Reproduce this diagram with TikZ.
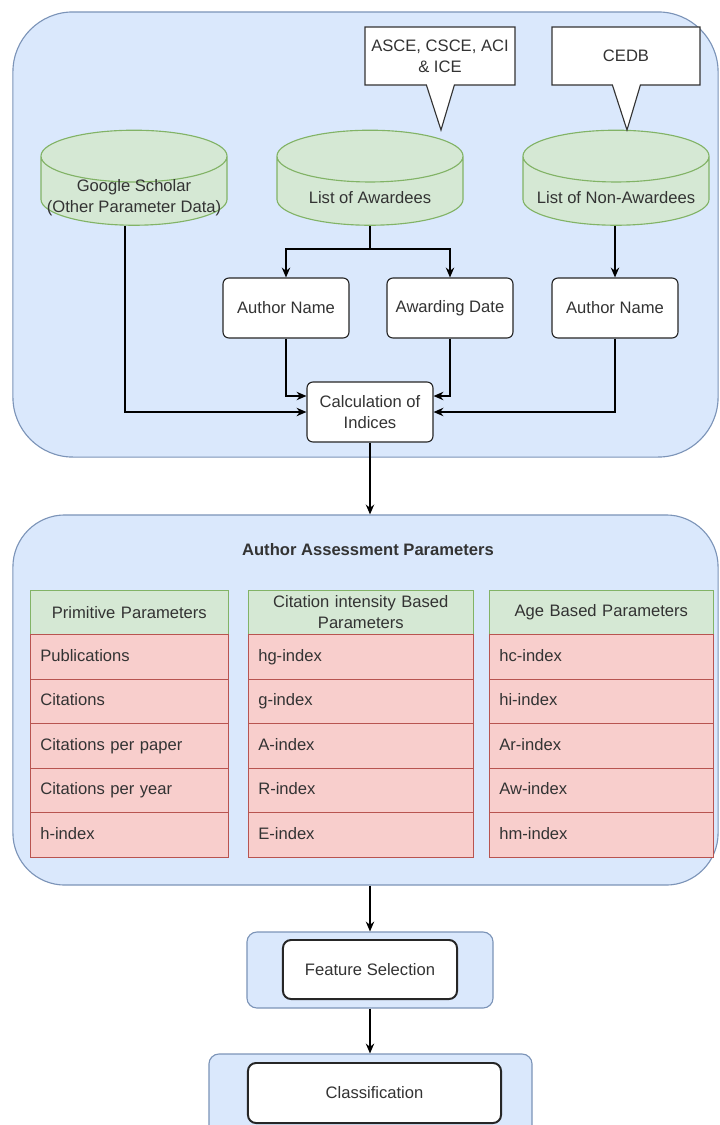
\documentclass[tikz,border=0pt]{standalone}
\usepackage{fontspec}
\setmainfont{Liberation Sans}
\usetikzlibrary{arrows.meta,shapes,shapes.callouts,positioning}
\definecolor{panelblue}{HTML}{DAE8FC}
\definecolor{panelline}{HTML}{7C94B8}
\definecolor{dbgreen}{HTML}{D5E8D4}
\definecolor{dbline}{HTML}{82B366}
\definecolor{rowred}{HTML}{F8CECC}
\definecolor{rowline}{HTML}{B85450}
\definecolor{inkgray}{HTML}{333333}
\newcommand{\dbbody}{\hspace*{3cm}}
\tikzstyle{panel}=[rectangle,draw=panelline,fill=panelblue,line width=0.8pt]
\tikzstyle{database}=[cylinder,shape border rotate=90,aspect=0.4,draw=dbline,fill=dbgreen,line width=0.8pt,minimum width=4.65cm,minimum height=2.375cm,inner ysep=1pt]
\tikzstyle{dbtext}=[align=center,text=inkgray,yshift=-0.075cm]
\tikzstyle{source}=[rectangle callout,draw=black!80,fill=white,line width=0.8pt,minimum width=3.7cm,minimum height=1.45cm,align=center,callout pointer width=0.7cm,text=inkgray]
\tikzstyle{procbox}=[rectangle,rounded corners=0.15cm,draw=black!85,fill=white,line width=0.8pt,minimum width=3.15cm,minimum height=1.5cm,align=center,text=inkgray]
\tikzstyle{thead}=[rectangle,anchor=north west,draw=dbline,fill=dbgreen,minimum height=1.1cm,inner xsep=0.25cm,align=center,text=inkgray]
\tikzstyle{trow}=[rectangle,anchor=north west,draw=rowline,fill=rowred,minimum height=1.115cm,inner xsep=0.25cm,text height=1.6ex,text depth=0.4ex,align=left,text=inkgray]
\tikzstyle{edge}=[draw,line width=0.9pt,-{Stealth[length=7pt,width=6pt]}]

\begin{document}
\begin{tikzpicture}[x=0.025cm,y=-0.025cm,font=\fontsize{11.8}{15}\selectfont]
    \useasboundingbox (0,0) rectangle (719,1125);

    % The two big panels
    \node[panel,rounded corners=1.5cm,minimum width=17.625cm,minimum height=11.125cm] (collect) at (365.5,234.5) {};
    \node[panel,rounded corners=1.3cm,minimum width=17.625cm,minimum height=9.25cm] (assess) at (365.5,700) {};

    % Databases and where they come from
    \node[database,label={[dbtext]center:Google Scholar\\(Other Parameter Data)}] (gs) at (134,195) {\dbbody};
    \node[database,label={[dbtext]center:List of Awardees}] (loa) at (370,195) {\dbbody};
    \node[database,label={[dbtext]center:List of Non-Awardees}] (lona) at (616,195) {\dbbody};
    \coordinate (tipa) at (441,130);
    \coordinate (tipn) at (627,130);
    \node[source,minimum width=3.75cm,callout absolute pointer={(tipa)}] (soc) at (440,56) {ASCE, CSCE, ACI\\\& ICE};
    \node[source,callout absolute pointer={(tipn)}] (cedb) at (626,56) {CEDB};

    % Author data boxes
    \foreach \pos/\name/\txt in {{(286,308)/an1/Author Name}, {(450,308)/ad/Awarding Date}, {(615,308)/an2/Author Name}, {(370,412)/calc/Calculation of\\Indices}}
        \node[procbox] (\name) at \pos {\txt};

    % Connect them
    \coordinate (split) at (370,249);
    \path[edge] (loa.south) -- (split) -| (an1.north);
    \path[edge] (split) -| (ad.north);
    \path[edge] (an2.north |- lona.south) -- (an2.north);
    \path[edge] ([xshift=-0.225cm]gs.south) |- (calc.west);
    \path[edge] (an1.south) |- ([yshift=0.4cm]calc.west);
    \path[edge] (ad.south) |- ([yshift=0.4cm]calc.east);
    \path[edge] (an2.south) |- (calc.east);
    \path[edge] (calc.south) -- (calc.south |- assess.north);

    % Parameter tables
    \node[font=\fontsize{11.8}{15}\selectfont\bfseries,text=inkgray] (title) at (368,550) {Author Assessment Parameters};
    \foreach \tab/\xl/\tw/\head/\rows in {
        prim/30/4.45cm/{Primitive Parameters}/{Publications,Citations,Citations per paper,Citations per year,h-index},
        cint/248/5.125cm/{Citation intensity Based\\Parameters}/{hg-index,g-index,A-index,R-index,E-index},
        age/489/5.1cm/{Age Based Parameters}/{hc-index,hi-index,Ar-index,Aw-index,hm-index}}
    {
        \node[thead,text width=\tw] (\tab0) at (\xl,590) {\head};
        \foreach \r [count=\i] in \rows
            \node[trow,text width=\tw] (\tab\i) at (\xl,{634+44.6*(\i-1)}) {\r};
    }

    % Last two steps
    \node[panel,rounded corners=0.25cm,minimum width=6.15cm,minimum height=1.9cm] (fsbox) at (370,970) {};
    \node[procbox,rounded corners=0.2cm,line width=1.4pt,minimum width=4.35cm,minimum height=1.475cm] (fs) at (370,969.5) {Feature Selection};
    \begin{scope}
        \clip (0,0) rectangle (719,1125);
        \node[panel,rounded corners=0.25cm,minimum width=8.075cm,minimum height=2.025cm] (clbox) at (370.5,1094.5) {};
        \node[procbox,rounded corners=0.2cm,line width=1.4pt,minimum width=6.325cm,minimum height=1.5cm] (cl) at (374.5,1093) {Classification};
    \end{scope}
    \path[edge] (assess.south -| fsbox.north) -- (fsbox.north);
    \path[edge] (fsbox.south) -- (clbox.north -| fsbox.south);
\end{tikzpicture}
\end{document}
